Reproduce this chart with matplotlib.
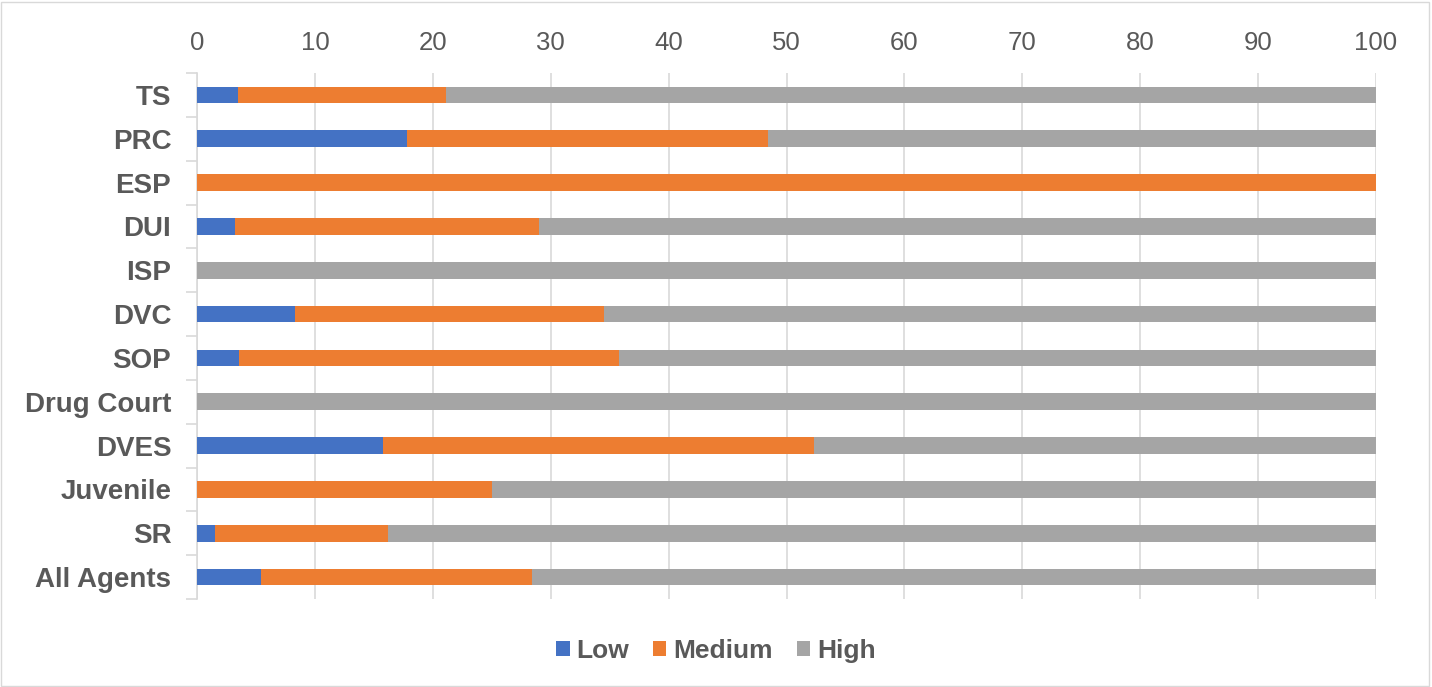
import numpy as np
import matplotlib
matplotlib.use("Agg")
import matplotlib.pyplot as plt

plt.rcParams["font.family"] = ["Liberation Sans", "DejaVu Sans"]

# --- data (percent of agents per risk level) ---
categories = ["TS", "PRC", "ESP", "DUI", "ISP", "DVC", "SOP", "Drug Court",
              "DVES", "Juvenile", "SR", "All Agents"]
low = [3.5, 17.8, 0, 3.2, 0, 8.3, 3.6, 0, 15.8, 0, 1.5, 5.4]
medium = [17.6, 30.6, 100, 25.8, 0, 26.2, 32.2, 0, 36.5, 25.0, 14.7, 23.0]
high = [78.9, 51.6, 0, 71.0, 100, 65.5, 64.2, 100, 47.7, 75.0, 83.8, 71.6]

colors = {"Low": "#4472C4", "Medium": "#ED7D31", "High": "#A5A5A5"}
text_col = "#595959"

fig = plt.figure(figsize=(14.32, 6.87), dpi=100)
ax = fig.add_axes([197 / 1432, 1 - 599 / 687, (1376 - 197) / 1432, (599 - 73) / 687])

y = np.arange(len(categories))
left = np.zeros(len(categories))
for name, vals in [("Low", low), ("Medium", medium), ("High", high)]:
    vals = np.array(vals)
    ax.barh(y, vals, left=left, height=0.38, color=colors[name], label=name,
            zorder=3)
    left += vals

ax.set_xlim(0, 100)
ax.set_ylim(len(categories) - 0.5, -0.5)
ax.set_xticks(np.arange(0, 101, 10))
ax.xaxis.tick_top()
ax.tick_params(axis="x", length=0, labelsize=18.5, labelcolor=text_col, pad=13)
ax.grid(axis="x", color="#D9D9D9", linewidth=1.2, zorder=0)

ax.set_yticks(y)
ax.set_yticklabels(categories, fontsize=20, fontweight="bold", color=text_col)
ax.set_yticks(np.arange(len(categories) + 1) - 0.5, minor=True)
ax.tick_params(axis="y", which="major", length=0, pad=18.5)
ax.tick_params(axis="y", which="minor", length=8, color="#D9D9D9", width=1.2)

for s in ["top", "right", "bottom"]:
    ax.spines[s].set_visible(False)
ax.spines["left"].set_color("#D9D9D9")
ax.spines["left"].set_linewidth(1.2)

fig.legend(loc="center", bbox_to_anchor=(0.5, 1 - 651 / 687), ncol=3,
           frameon=False, prop={"weight": "bold", "size": 19},
           handlelength=0.5, handleheight=0.5, handletextpad=0.27,
           columnspacing=0.9, labelcolor=text_col)

# light frame around the chart area
fig.patches.append(plt.Rectangle((0.001, 0.002), 0.997, 0.995, transform=fig.transFigure,
                                 fill=False, edgecolor="#D9D9D9", linewidth=1))

fig.savefig("out.png", dpi=100)
